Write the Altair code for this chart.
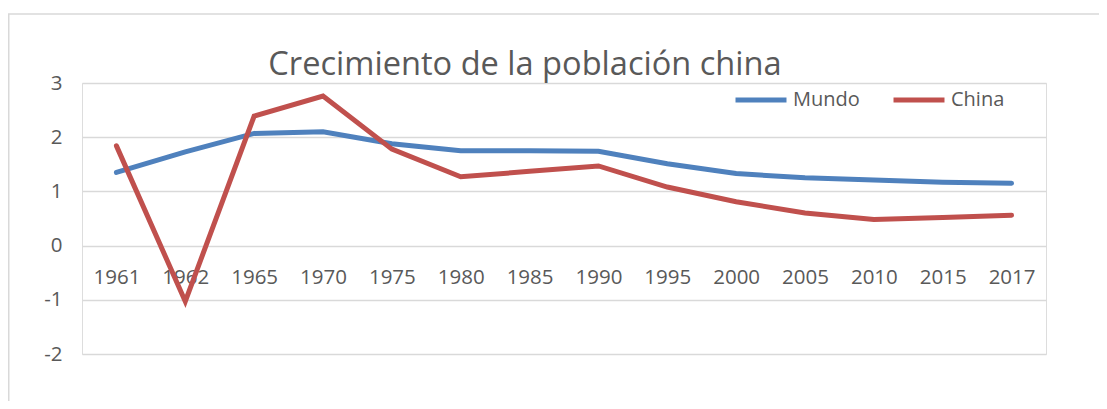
import altair as alt
import pandas as pd

years = ["1961", "1962", "1965", "1970", "1975", "1980", "1985",
         "1990", "1995", "2000", "2005", "2010", "2015", "2017"]
mundo = [1.35, 1.73, 2.07, 2.10, 1.88, 1.75, 1.75, 1.74, 1.51, 1.33, 1.25, 1.21, 1.17, 1.15]
china = [1.84, -1.03, 2.39, 2.76, 1.78, 1.27, 1.37, 1.47, 1.08, 0.81, 0.60, 0.48, 0.52, 0.56]
series = ["Mundo", "China"]
colors = ["#4f81bd", "#c0504d"]
y_ticks = [-2, -1, 0, 1, 2, 3]
title_text = "Crecimiento de la población china"

rows = []
for name, vals in zip(series, [mundo, china]):
    for yr, v in zip(years, vals):
        rows.append({"Año": yr, "Serie": name, "Valor": v})
df = pd.DataFrame(rows)

W, H = 964, 271
FONT = "Open Sans"
TXT = "#595959"
GRID = "#d9d9d9"

lines = alt.Chart(df).mark_line(strokeWidth=5, strokeCap="round").encode(
    x=alt.X("Año:O", sort=years,
            scale=alt.Scale(type="point", padding=0.5),
            axis=alt.Axis(title=None, orient="bottom", offset=-108.5,
                          domain=False, ticks=False, grid=False,
                          labelAngle=0, labelFont=FONT, labelFontSize=20.5,
                          labelColor=TXT, labelBaseline="middle",
                          labelPadding=32)),
    y=alt.Y("Valor:Q", scale=alt.Scale(domain=[-2, 3], nice=False, zero=False),
            axis=alt.Axis(title=None, values=y_ticks, domain=False, ticks=False,
                          grid=True, gridColor=GRID, gridWidth=1.5,
                          labelFont=FONT, labelFontSize=20.5, labelColor=TXT,
                          labelPadding=20, labelBaseline="middle",
                          labelExpr="'' + datum.value")),
    color=alt.Color("Serie:N", sort=series,
                    scale=alt.Scale(domain=series, range=colors),
                    legend=alt.Legend(orient="none", legendX=651, legendY=-11,
                                      direction="horizontal", title=None,
                                      symbolType="stroke", symbolSize=2600,
                                      symbolStrokeWidth=5, labelFont=FONT,
                                      labelFontSize=20, labelColor=TXT,
                                      columnPadding=23, labelOffset=4,
                                      padding=0)),
)

frame_df = pd.DataFrame({"k": [0]})
frame_v = alt.Chart(frame_df).mark_rule(color=GRID, strokeWidth=1.5).encode(
    x=alt.value(-73.25), y=alt.value(-69), y2=alt.value(H + 60))
frame_h = alt.Chart(frame_df).mark_rule(color=GRID, strokeWidth=1.5).encode(
    x=alt.value(-74), x2=alt.value(W + 70), y=alt.value(-69))

title = alt.Chart(frame_df).mark_text(
    text=title_text, font=FONT, fontSize=32.6, color=TXT,
    align="center", baseline="alphabetic").encode(
    x=alt.value(443), y=alt.value(-8))

chart = alt.layer(frame_v, frame_h, title, lines).properties(
    width=W, height=H,
    autosize=alt.AutoSizeParams(type="none"),
    padding={"left": 74, "top": 75, "right": 53, "bottom": 47},
).configure_view(stroke=None).configure(background="white")

chart.save("out.html", embed_options={"renderer": "svg", "actions": False})
